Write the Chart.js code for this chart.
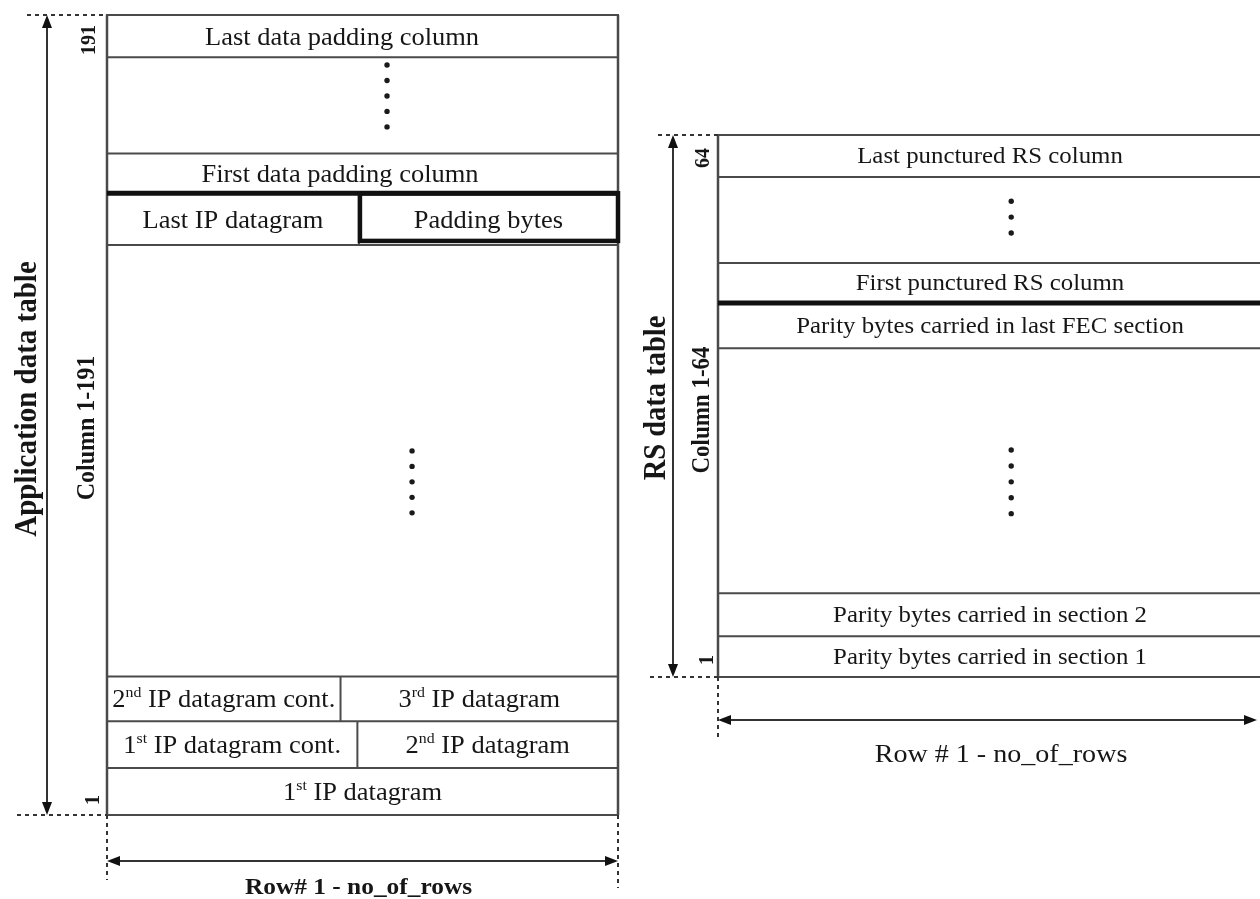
<!DOCTYPE html>
<html>
<head>
<meta charset="utf-8">
<script src="https://cdn.jsdelivr.net/npm/chart.js@4.4.1/dist/chart.umd.min.js"></script>
<style>
    html, body { margin: 0; padding: 0; background: #fff; overflow: hidden; }
    body { width: 1260px; height: 899px; position: relative; }
    canvas { position: absolute; top: 0; }
    #app-chart { left: 0; }
    #rs-chart { left: 640px; }
</style>
</head>
<body>
<canvas id="app-chart" width="640" height="899"></canvas>
<canvas id="rs-chart" width="630" height="899"></canvas>
<script>
// rows go from the bottom of the table (column 1) to the top
// {xx} marks a superscript
const appRows = [
    ['1{st} IP datagram'],
    ['1{st} IP datagram cont.', '2{nd} IP datagram'],
    ['2{nd} IP datagram cont.', '3{rd} IP datagram'],
    [],
    ['Last IP datagram', 'Padding bytes'],
    ['First data padding column'],
    [],
    ['Last data padding column']
];
const appSpans = [1, 1, 0.95, 9.2, 1.1, 0.85, 2.05, 0.9];
const appSplits = [null, 0.49, 0.457, null, 0.493, null, null, null];
const appDots = [0, 0, 0, 5, 0, 0, 5, 0];
const appTicks = ['1', '191'];

const rsRows = [
    ['Parity bytes carried in section 1'],
    ['Parity bytes carried in section 2'],
    [],
    ['Parity bytes carried in last FEC section'],
    ['First punctured RS column'],
    [],
    ['Last punctured RS column']
];
const rsSpans = [0.95, 1, 5.7, 1.05, 0.93, 2, 0.98];
const rsSplits = [null, null, null, null, null, null, null];
const rsDots = [0, 0, 5, 0, 0, 3, 0];
const rsTicks = ['1', '64'];

const FONT = '"Liberation Serif", "Times New Roman", serif';
const STRETCH = 1.08;
const INK = '#161616';
const LINE = '#4a4a4a';

function line(ctx, x0, y0, x1, y1, color, width) {
    ctx.beginPath();
    ctx.moveTo(x0, y0);
    ctx.lineTo(x1, y1);
    ctx.strokeStyle = color;
    ctx.lineWidth = width;
    ctx.stroke();
}

function head(ctx, x, y, dx, dy) {
    // filled arrow head with its tip at x,y pointing along dx,dy
    const len = 13, half = 5;
    ctx.beginPath();
    ctx.moveTo(x, y);
    ctx.lineTo(x - dx * len - dy * half, y - dy * len + dx * half);
    ctx.lineTo(x - dx * len + dy * half, y - dy * len - dx * half);
    ctx.closePath();
    ctx.fillStyle = '#111';
    ctx.fill();
}

function arrow(ctx, x0, y0, x1, y1) {
    const d = Math.hypot(x1 - x0, y1 - y0);
    const dx = (x1 - x0) / d, dy = (y1 - y0) / d;
    line(ctx, x0 + dx * 6, y0 + dy * 6, x1 - dx * 6, y1 - dy * 6, '#333', 2);
    head(ctx, x0, y0, -dx, -dy);
    head(ctx, x1, y1, dx, dy);
}

function dashed(ctx, x0, y0, x1, y1) {
    ctx.save();
    ctx.setLineDash([4, 4]);
    line(ctx, x0, y0, x1, y1, '#333', 2);
    ctx.restore();
}

// text with {sup} parts, centred on cx, cy
function richText(ctx, str, cx, cy, size, weight) {
    const parts = str.split(/\{(\w+)\}/);
    const small = size * 0.6;
    ctx.save();
    ctx.translate(cx, cy);
    ctx.scale(STRETCH, 1);
    ctx.fillStyle = INK;
    ctx.textBaseline = 'middle';
    ctx.textAlign = 'left';
    let w = 0;
    parts.forEach((p, i) => {
        ctx.font = (weight || '') + ' ' + (i % 2 ? small : size) + 'px ' + FONT;
        w += ctx.measureText(p).width;
    });
    let x = -w / 2;
    parts.forEach((p, i) => {
        ctx.font = (weight || '') + ' ' + (i % 2 ? small : size) + 'px ' + FONT;
        ctx.fillText(p, x, i % 2 ? -size * 0.3 : 0);
        x += ctx.measureText(p).width;
    });
    ctx.restore();
}

function upText(ctx, str, cx, cy, size, weight) {
    ctx.save();
    ctx.translate(cx, cy);
    ctx.scale(STRETCH, 1);
    ctx.rotate(-Math.PI / 2);
    ctx.font = (weight || '') + ' ' + size + 'px ' + FONT;
    ctx.fillStyle = INK;
    ctx.textAlign = 'center';
    ctx.textBaseline = 'middle';
    ctx.fillText(str, 0, 0);
    ctx.restore();
}

function tablePlugin(t) {
    return {
        id: 'table',
        beforeDatasetsDraw(chart) {
            const { ctx, chartArea: a, scales: { x, y } } = chart;
            const px = v => x.getPixelForValue(v);
            const py = v => y.getPixelForValue(v);
            ctx.save();

            let base = 0;
            let thickY = null, box = null;
            t.spans.forEach((s, i) => {
                const y0 = py(base), y1 = py(base + s);
                const cy = (y0 + y1) / 2 + t.textDy;
                line(ctx, px(0), y0, px(1), y0, LINE, 2);
                const cells = t.rows[i];
                if (cells.length === 2) {
                    const xs = px(t.splits[i]);
                    line(ctx, xs, y0, xs, y1, LINE, 2);
                    richText(ctx, cells[0], (px(0) + xs) / 2, cy, t.textSize);
                    richText(ctx, cells[1], (xs + px(1)) / 2, cy, t.textSize);
                    if (t.box === i) box = [xs, y1, px(1) - xs, y0 - y1];
                } else if (cells.length === 1) {
                    const shift = t.labelShift[i] || 0;
                    richText(ctx, cells[0], px(0.5 + shift), cy, t.textSize);
                }
                if (t.thickAbove === i) thickY = y1;
                base += s;
            });
            line(ctx, px(0) - 1, py(base), px(1) + 1, py(base), LINE, 2);
            line(ctx, px(0), py(base), px(0), py(0), LINE, 2.5);
            line(ctx, px(1), py(base), px(1), py(0), LINE, 2.5);

            if (thickY !== null) line(ctx, px(0), thickY, px(1), thickY, '#111', 5);
            if (box) {
                ctx.strokeStyle = '#111';
                ctx.lineWidth = 4.5;
                ctx.strokeRect(box[0] + 1, box[1], box[2] - 1, box[3] - 4);
            }

            // column extent on the left
            arrow(ctx, a.left + t.arrowX, a.top, a.left + t.arrowX, a.bottom);
            dashed(ctx, a.left + t.dashTop, a.top, a.left, a.top);
            dashed(ctx, a.left + t.dashBottom, a.bottom, a.left, a.bottom);
            upText(ctx, t.title, a.left + t.titleX, t.titleY, t.titleSize, 'bold');
            upText(ctx, t.columns, a.left + t.colX, t.colY, t.colSize, 'bold');
            upText(ctx, t.ticks[1], a.left + t.tickX, a.top + t.tickTop, t.tickSize, 'bold');
            upText(ctx, t.ticks[0], a.left + t.tickX + 4, a.bottom - t.tickBottom, t.tickSize, 'bold');

            // row extent below
            dashed(ctx, a.left, a.bottom, a.left, a.bottom + t.vDashLeft);
            if (t.vDashRight) dashed(ctx, a.right, a.bottom, a.right, a.bottom + t.vDashRight);
            arrow(ctx, a.left, a.bottom + t.arrowY, a.right - t.arrowInset, a.bottom + t.arrowY);
            richText(ctx, t.rowLabel, (a.left + a.right) / 2 + t.rowLabelDx, a.bottom + t.rowLabelY,
                t.rowLabelSize, t.rowLabelWeight);

            ctx.restore();
        }
    };
}

function dotPoints(t) {
    const pts = [];
    let base = 0;
    t.spans.forEach((s, i) => {
        const n = t.dots[i];
        if (n) {
            const mid = base + s / 2 + t.dotShift[i];
            for (let k = 0; k < n; k++) {
                pts.push({ x: t.dotX[i], y: mid + ((n - 1) / 2 - k) * t.dotStep });
            }
        }
        base += s;
    });
    return pts;
}

function makeChart(id, t) {
    const total = t.spans.reduce((p, c) => p + c, 0);
    return new Chart(document.getElementById(id), {
        type: 'scatter',
        data: {
            datasets: [{
                data: dotPoints(t),
                pointRadius: 2.7,
                pointBackgroundColor: '#1a1a1a',
                pointBorderWidth: 0
            }]
        },
        options: {
            responsive: false,
            animation: false,
            devicePixelRatio: 1,
            events: [],
            layout: { padding: t.pad },
            scales: {
                x: { type: 'linear', min: 0, max: 1, display: false },
                y: { type: 'linear', min: 0, max: total, display: false }
            },
            plugins: { legend: { display: false }, tooltip: { enabled: false } }
        },
        plugins: [tablePlugin(t)]
    });
}

const appChart = makeChart('app-chart', {
    rows: appRows, spans: appSpans, splits: appSplits, dots: appDots, ticks: appTicks,
    pad: { left: 107, right: 22, top: 15, bottom: 84 },
    textSize: 24.5, textDy: 2, labelShift: { 5: -0.044, 7: -0.04 },
    thickAbove: 4, box: 4,
    dotX: { 3: 0.597, 6: 0.548 }, dotShift: { 3: -0.45, 6: 0.2 }, dotStep: 0.33,
    arrowX: -60, dashTop: -80, dashBottom: -90,
    title: 'Application data table', titleX: -79, titleY: 399, titleSize: 29,
    columns: 'Column 1-191', colX: -20, colY: 428, colSize: 24,
    tickX: -18, tickTop: 25, tickBottom: 15, tickSize: 20,
    vDashLeft: 65, vDashRight: 73, arrowY: 46, arrowInset: 0,
    rowLabel: 'Row# 1 - no_of_rows', rowLabelDx: -4, rowLabelY: 73, rowLabelSize: 23.5, rowLabelWeight: 'bold'
});

const rsChart = makeChart('rs-chart', {
    rows: rsRows, spans: rsSpans, splits: rsSplits, dots: rsDots, ticks: rsTicks,
    pad: { left: 78, right: 8, top: 135, bottom: 222 },
    textSize: 23, textDy: 1, labelShift: {},
    thickAbove: 3, box: null,
    dotX: { 2: 0.539, 5: 0.539 }, dotShift: { 2: -0.26, 5: 0.07 }, dotStep: 0.37,
    arrowX: -45, dashTop: -60, dashBottom: -68,
    title: 'RS data table', titleX: -61, titleY: 398, titleSize: 28.5,
    columns: 'Column 1-64', colX: -15, colY: 410, colSize: 23,
    tickX: -15, tickTop: 23, tickBottom: 17, tickSize: 20,
    vDashLeft: 63, vDashRight: 0, arrowY: 43, arrowInset: 5,
    rowLabel: 'Row # 1 - no_of_rows', rowLabelDx: 11, rowLabelY: 78, rowLabelSize: 26, rowLabelWeight: ''
});
</script>
</body>
</html>
